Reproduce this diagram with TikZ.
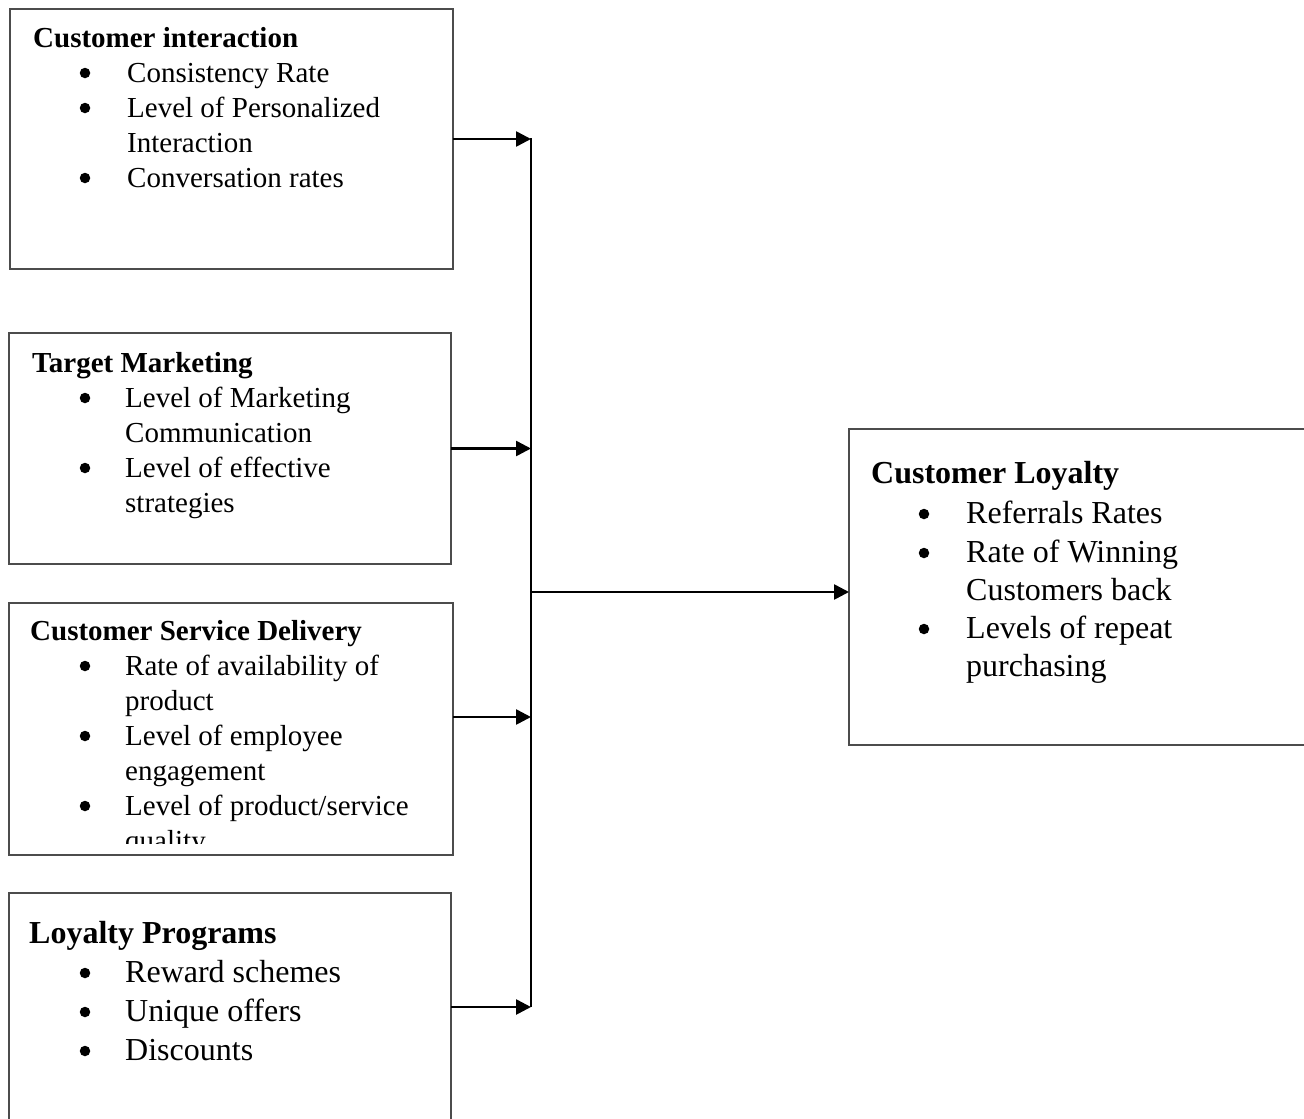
\documentclass[tikz,border=0pt]{standalone}
\usepackage{fontspec}
\setmainfont{Liberation Serif}
\usetikzlibrary{arrows.meta}
\definecolor{boxline}{gray}{0.3}
\begin{document}
\begin{tikzpicture}[x=1pt,y=-1pt,
  box/.style={draw=boxline, line width=1.3pt, inner sep=0pt, outer sep=0pt, anchor=north west},
  ttlA/.style={anchor=base west, inner sep=0pt, font=\fontsize{29}{35}\selectfont\bfseries},
  txtA/.style={anchor=base west, inner sep=0pt, font=\fontsize{29}{35}\selectfont},
  ttlB/.style={anchor=base west, inner sep=0pt, font=\fontsize{32}{38}\selectfont\bfseries},
  txtB/.style={anchor=base west, inner sep=0pt, font=\fontsize{32}{38}\selectfont},
  bul/.style={circle, fill=black, inner sep=0pt, minimum size=10.5pt, yshift=9pt},
  bus/.style={line width=2.6pt},
  conn/.style={line width=2.6pt, -{Triangle[length=15pt,width=15pt]}}]
\useasboundingbox (0,0) rectangle (1304,1119);
\fill[white] (0,0) rectangle (1304,1119);
\clip (0,0) rectangle (1304,1119);

% boxes
\node[box, minimum width=443pt, minimum height=260pt] (b1) at (10,9) {};
\node[box, minimum width=442pt, minimum height=231pt] (b2) at (9,333) {};
\node[box, minimum width=444pt, minimum height=252pt] (b3) at (9,603) {};
\node[box, minimum width=442pt, minimum height=240pt] (b4) at (9,893) {};
\node[box, minimum width=480pt, minimum height=316pt] (b5) at (849,429) {};

% box 1
\node[ttlA] (t1) at (33,47) {Customer interaction};
\node[bul] (t1b1) at (85,82) {};  \node[txtA] (t1i1) at (127,82) {Consistency Rate};
\node[bul] (t1b2) at (85,117) {}; \node[txtA] (t1i2) at (127,117) {Level of Personalized};
\node[txtA] (t1i3) at (127,152) {Interaction};
\node[bul] (t1b3) at (85,187) {}; \node[txtA] (t1i4) at (127,187) {Conversation rates};

% box 2
\node[ttlA] (t2) at (32,372) {Target Marketing};
\node[bul] (t2b1) at (85,407) {}; \node[txtA] (t2i1) at (125,407) {Level of Marketing};
\node[txtA] (t2i2) at (125,442) {Communication};
\node[bul] (t2b2) at (85,477) {}; \node[txtA] (t2i3) at (125,477) {Level of effective};
\node[txtA] (t2i4) at (125,512) {strategies};

% box 3 (text cut at the bottom)
\begin{scope}
\clip (9,603) rectangle (453,843);
\node[ttlA] (t3) at (30,640) {Customer Service Delivery};
\node[bul] (t3b1) at (85,675) {}; \node[txtA] (t3i1) at (125,675) {Rate of availability of};
\node[txtA] (t3i2) at (125,710) {product};
\node[bul] (t3b2) at (85,745) {}; \node[txtA] (t3i3) at (125,745) {Level of employee};
\node[txtA] (t3i4) at (125,780) {engagement};
\node[bul] (t3b3) at (85,815) {}; \node[txtA] (t3i5) at (125,815) {Level of product/service};
\node[txtA] (t3i6) at (125,850) {quality};
\end{scope}

% box 4
\node[ttlB] (t4) at (29,943) {Loyalty Programs};
\node[bul] (t4b1) at (85,982) {};  \node[txtB] (t4i1) at (125,982) {Reward schemes};
\node[bul] (t4b2) at (85,1021) {}; \node[txtB] (t4i2) at (125,1021) {Unique offers};
\node[bul] (t4b3) at (85,1060) {}; \node[txtB] (t4i3) at (125,1060) {Discounts};

% box 5
\node[ttlB] (t5) at (871,483) {Customer Loyalty};
\node[bul] (t5b1) at (924,523) {}; \node[txtB] (t5i1) at (966,523) {Referrals Rates};
\node[bul] (t5b2) at (924,562) {}; \node[txtB] (t5i2) at (966,562) {Rate of Winning};
\node[txtB] (t5i3) at (966,600) {Customers back};
\node[bul] (t5b3) at (924,638) {}; \node[txtB] (t5i4) at (966,638) {Levels of repeat};
\node[txtB] (t5i5) at (966,676) {purchasing};

% connectors
\coordinate (bustop) at (531,138);
\coordinate (busbot) at (531,1007);
\coordinate (busmid) at (531,592);
\coordinate (a3) at ([yshift=-114pt]b3.north east);
\coordinate (a4) at ([yshift=-114pt]b4.north east);
\draw[bus] (bustop) -- (busbot);
\draw[conn] (b1.east) -- (b1.east -| bustop);
\draw[conn] (b2.east) -- (b2.east -| bustop);
\draw[conn] (a3) -- (a3 -| bustop);
\draw[conn] (a4) -- (a4 -| bustop);
\draw[conn] (busmid) -- (busmid -| b5.west);
\end{tikzpicture}
\end{document}
